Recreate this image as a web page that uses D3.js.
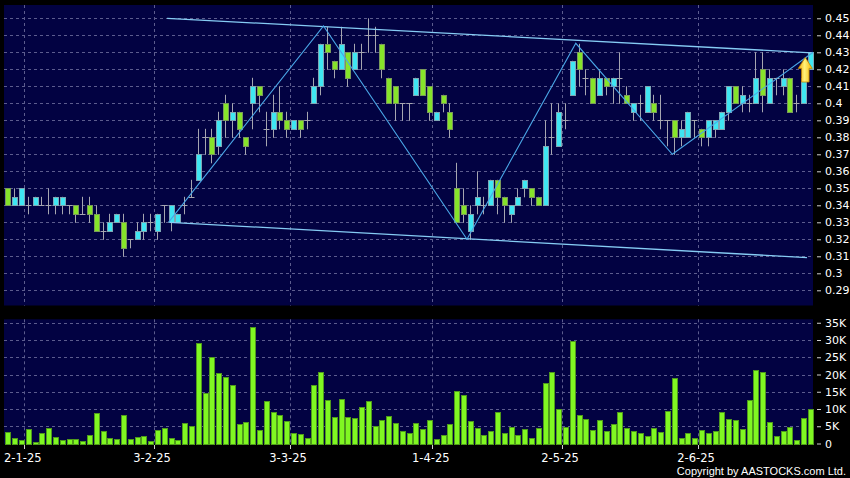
<!DOCTYPE html>
<html><head><meta charset="utf-8">
<script src="https://cdn.jsdelivr.net/npm/d3@7"></script>
<style>html,body{margin:0;padding:0;background:#000;}svg{display:block;}</style>
</head><body>
<svg id="chart" width="850" height="478"></svg>
<script>
// ---------- DATA ----------
const dates = ["2024-12-27","2024-12-30","2024-12-31","2025-01-02","2025-01-03","2025-01-06","2025-01-07","2025-01-08","2025-01-09","2025-01-10",
"2025-01-13","2025-01-14","2025-01-15","2025-01-16","2025-01-17","2025-01-20","2025-01-21","2025-01-22","2025-01-23","2025-01-24",
"2025-01-27","2025-01-28","2025-02-03","2025-02-04","2025-02-05","2025-02-06","2025-02-07","2025-02-10","2025-02-11","2025-02-12",
"2025-02-13","2025-02-14","2025-02-17","2025-02-18","2025-02-19","2025-02-20","2025-02-21","2025-02-24","2025-02-25","2025-02-26",
"2025-02-27","2025-02-28","2025-03-03","2025-03-04","2025-03-05","2025-03-06","2025-03-07","2025-03-10","2025-03-11","2025-03-12",
"2025-03-13","2025-03-14","2025-03-17","2025-03-18","2025-03-19","2025-03-20","2025-03-21","2025-03-24","2025-03-25","2025-03-26",
"2025-03-27","2025-03-28","2025-03-31","2025-04-01","2025-04-02","2025-04-03","2025-04-07","2025-04-08","2025-04-09","2025-04-10",
"2025-04-11","2025-04-14","2025-04-15","2025-04-16","2025-04-17","2025-04-22","2025-04-23","2025-04-24","2025-04-25","2025-04-28",
"2025-04-29","2025-04-30","2025-05-02","2025-05-06","2025-05-07","2025-05-08","2025-05-09","2025-05-12","2025-05-13","2025-05-14",
"2025-05-15","2025-05-16","2025-05-19","2025-05-20","2025-05-21","2025-05-22","2025-05-23","2025-05-26","2025-05-27","2025-05-28",
"2025-05-29","2025-05-30","2025-06-02","2025-06-03","2025-06-04","2025-06-05","2025-06-06","2025-06-09","2025-06-10","2025-06-11",
"2025-06-12","2025-06-13","2025-06-16","2025-06-17","2025-06-18","2025-06-19","2025-06-20","2025-06-23","2025-06-24"];

const open  = [.35,.34,.34,.34,.34,.34,.34,.34,.34,.34, .34,.335,.34,.335,.325,.325,.33,.33,.32,.32,
.325,.33,.325,.34,.33,.33,.34,.345,.355,.38, .38,.375,.40,.39,.395,.38,.40,.41,.385,.385,
.395,.39,.385,.39,.39,.40,.41,.435,.425,.42, .43,.42,.43,.44,.44,.435,.415,.41,.40,.40,
.405,.42,.41,.39,.405,.395,.35,.34,.325,.34, .34,.34,.355,.345,.335,.34,.35,.35,.345,.34,
.38,.375,.39,.405,.43,.415,.415,.405,.415,.41, .415,.405,.395,.40,.395,.40,.39,.39,.39,.38,
.38,.39,.385,.38,.385,.385,.395,.41,.40,.40, .40,.42,.40,.415,.41,.415,.40,.40,.42];
const high  = [.35,.35,.35,.345,.345,.345,.35,.345,.345,.34, .34,.345,.345,.34,.33,.335,.335,.335,.32,.33,
.335,.335,.335,.34,.34,.335,.345,.355,.385,.385, .385,.395,.405,.40,.395,.38,.415,.41,.395,.405,
.41,.395,.39,.39,.395,.415,.435,.445,.425,.445, .43,.435,.435,.45,.445,.435,.415,.41,.40,.40,
.415,.42,.41,.395,.405,.40,.365,.35,.34,.36, .345,.355,.355,.345,.34,.35,.355,.35,.345,.39,
.40,.40,.40,.425,.435,.42,.415,.42,.415,.415, .43,.41,.40,.405,.41,.405,.405,.39,.39,.39,
.395,.39,.385,.39,.39,.395,.41,.41,.41,.405, .43,.43,.42,.415,.42,.415,.405,.415,.43];
const low   = [.34,.34,.34,.335,.34,.34,.335,.335,.335,.335, .33,.335,.33,.325,.32,.325,.33,.31,.315,.32,
.32,.325,.32,.33,.325,.33,.335,.345,.355,.37, .365,.37,.38,.38,.38,.37,.385,.395,.375,.38,
.385,.38,.385,.38,.385,.40,.405,.42,.415,.42, .41,.42,.42,.43,.43,.415,.40,.39,.39,.39,
.405,.405,.39,.39,.395,.38,.33,.33,.32,.335, .335,.34,.335,.33,.33,.34,.345,.34,.34,.34,
.37,.375,.385,.405,.41,.405,.40,.405,.405,.40, .40,.40,.39,.39,.395,.39,.385,.375,.37,.375,
.38,.38,.375,.375,.38,.385,.39,.40,.395,.395, .40,.395,.40,.405,.405,.395,.395,.40,.42];
const close = [.34,.345,.35,.34,.345,.34,.34,.345,.345,.34, .335,.335,.335,.325,.325,.33,.335,.315,.32,.325,
.33,.33,.335,.34,.34,.335,.34,.345,.37,.38, .37,.39,.39,.395,.385,.375,.41,.405,.385,.395,
.39,.385,.39,.385,.39,.41,.435,.43,.42,.435, .415,.43,.43,.44,.44,.42,.40,.40,.40,.40,
.415,.405,.395,.395,.40,.385,.33,.335,.335,.345, .34,.355,.345,.34,.34,.345,.355,.345,.34,.375,
.38,.395,.39,.425,.42,.415,.40,.415,.41,.415, .415,.40,.40,.40,.41,.395,.39,.39,.38,.385,
.395,.39,.38,.39,.39,.395,.41,.40,.405,.40, .415,.405,.415,.415,.415,.395,.40,.415,.43];
const volume = [3200,1600,900,4100,500,2900,4400,1900,1100,1300, 1300,700,2600,8800,3700,1700,1200,8400,1300,1800,
2100,700,4000,4400,1700,1000,6000,5100,29200,14500, 25000,20300,19200,17100,5600,6300,33800,3900,12400,9000,
8300,6600,3100,2700,1500,17000,20700,12700,7700,13000, 7700,7300,10600,12400,5000,6900,8100,5800,3500,3000,
5800,4200,6800,1200,2400,5700,15300,14100,6500,4500, 2600,3500,9200,3100,4800,2400,4100,1500,4500,17600,
20700,10000,4700,29800,8400,7200,3900,6700,3500,5600, 9100,4500,3700,3000,2200,4400,3200,9300,18900,1600,
3000,1600,3800,2900,3500,9200,7200,6900,4100,12600, 21200,20600,6300,2100,3700,4700,1000,7400,9900];

const tickDates  = ["2025-01-02","2025-02-03","2025-03-03","2025-04-01","2025-05-02","2025-06-02"];
const tickLabels = ["2-1-25","3-2-25","3-3-25","1-4-25","2-5-25","2-6-25"];
const priceTicks = [0.29,0.30,0.31,0.32,0.33,0.34,0.35,0.36,0.37,0.38,0.39,0.40,0.41,0.42,0.43,0.44,0.45];
const priceTickLabels = ["0.29","0.3","0.31","0.32","0.33","0.34","0.35","0.36","0.37","0.38","0.39","0.4","0.41","0.42","0.43","0.44","0.45"];
const volTicks = [0,5000,10000,15000,20000,25000,30000,35000];
const volTickLabels = ["0","5K","10K","15K","20K","25K","30K","35K"];

// drawn annotations: [candle index, price]
const upperChannel = [[23.5,0.450],[118.3,0.4297]];
const lowerChannel = [[23.9,0.330],[117.6,0.3092]];
const zigzag = [[23.7,0.330],[46.5,0.4455],[67.6,0.320],[83.6,0.4353],[97.8,0.370],[118.5,0.430]];
const arrowAt = [117.35, 0.4270, 0.4125]; // index, tip price, tail price

// ---------- LAYOUT ----------
const W = 850, H = 478;
const L = 3.9, R = 813.1;
const P = {top:5, bottom:305.5};
const V = {top:319.3, bottom:443.5};
const navy = "#020242";
const gridCol = "#5c5c8e";
const cyan = "#3fe6f2", green = "#86e42a";

const svg = d3.select("#chart");
svg.append("rect").attr("width",W).attr("height",H).attr("fill","#000");

const x = d3.scaleBand().domain(dates).range([L,R]).paddingInner(0).paddingOuter(0);
const bw = x.bandwidth();
const xi = d3.scaleLinear().domain([0,dates.length]).range([L,R]); // index -> band start
const xc = i => xi(i + 0.5);
const y = d3.scaleLinear().domain([0.28106,0.45782]).range([P.bottom,P.top]);
const yv = d3.scaleLinear().domain([0,36000]).range([V.bottom,V.top]);

// panels
svg.append("rect").attr("x",4).attr("y",P.top).attr("width",809).attr("height",P.bottom-P.top).attr("fill",navy);
svg.append("rect").attr("x",4).attr("y",V.top).attr("width",809).attr("height",V.bottom-V.top+0.5).attr("fill",navy);

const grid = svg.append("g").attr("stroke",gridCol).attr("stroke-width",1).attr("stroke-dasharray","3,3").attr("fill","none");
grid.selectAll(".hp").data(priceTicks).join("line")
  .attr("x1",4).attr("x2",813).attr("y1",d=>Math.round(y(d))+0.5).attr("y2",d=>Math.round(y(d))+0.5);
grid.selectAll(".hv").data(volTicks.slice(1)).join("line")
  .attr("x1",4).attr("x2",813).attr("y1",d=>Math.round(yv(d))+0.5).attr("y2",d=>Math.round(yv(d))+0.5);
grid.selectAll(".vp").data(tickDates).join("line")
  .attr("x1",d=>Math.round(x(d))+0.5).attr("x2",d=>Math.round(x(d))+0.5).attr("y1",P.top).attr("y2",P.bottom);
grid.selectAll(".vv").data(tickDates).join("line")
  .attr("x1",d=>Math.round(x(d))+0.5).attr("x2",d=>Math.round(x(d))+0.5).attr("y1",V.top).attr("y2",V.bottom);

// candles
const candles = dates.map((d,i)=>({d,i,o:open[i],h:high[i],l:low[i],c:close[i]}));
const cg = svg.append("g");
cg.selectAll(".wick").data(candles).join("line")
  .attr("x1",c=>Math.round(x(c.d)+bw/2)+0.5).attr("x2",c=>Math.round(x(c.d)+bw/2)+0.5)
  .attr("y1",c=>y(c.h)).attr("y2",c=>y(c.l)+0.5)
  .attr("stroke","#a6a6b0").attr("stroke-width",1);
cg.selectAll(".doji").data(candles.filter(c=>c.o===c.c)).join("line")
  .attr("x1",c=>Math.round(x(c.d)+bw/2)-2.5).attr("x2",c=>Math.round(x(c.d)+bw/2)+3.5)
  .attr("y1",c=>Math.round(y(c.o))+0.5).attr("y2",c=>Math.round(y(c.o))+0.5)
  .attr("stroke","#a6a6b0").attr("stroke-width",1);
cg.selectAll(".body").data(candles.filter(c=>c.o!==c.c)).join("rect")
  .attr("x",c=>Math.round(x(c.d)+bw/2)-2+0.5)
  .attr("width",5)
  .attr("y",c=>Math.round(y(Math.max(c.o,c.c)))+0.5)
  .attr("height",c=>Math.max(1,Math.round(y(Math.min(c.o,c.c)))-Math.round(y(Math.max(c.o,c.c)))))
  .attr("fill",c=>c.c>c.o?cyan:green)
  .attr("stroke",c=>c.c>c.o?"#7fa6b4":"#7a9a5a").attr("stroke-width",1);

// volume bars
svg.append("g").selectAll("rect").data(volume).join("rect")
  .attr("x",(v,i)=>Math.round(x(dates[i])+bw/2)-2+0.5)
  .attr("width",5)
  .attr("y",v=>Math.round(yv(v))+0.5)
  .attr("height",v=>Math.max(0,Math.round(yv(0))-Math.round(yv(v))))
  .attr("fill","#80f722").attr("stroke","#4f9a1c").attr("stroke-width",1);

// trend annotations
const line = d3.line().x(p=>xc(p[0])).y(p=>y(p[1]));
const ann = svg.append("g").attr("fill","none");
ann.append("path").attr("d",line(upperChannel)).attr("stroke","#86ccf4").attr("stroke-width",1.3);
ann.append("path").attr("d",line(lowerChannel)).attr("stroke","#86ccf4").attr("stroke-width",1.3);
ann.append("path").attr("d",line(zigzag)).attr("stroke","#4aa6e6").attr("stroke-width",1.1);

// yellow arrow
const defs = svg.append("defs");
const gr = defs.append("linearGradient").attr("id","ag").attr("x1","0").attr("x2","1").attr("y1","0").attr("y2","0");
gr.append("stop").attr("offset","0").attr("stop-color","#f2a400");
gr.append("stop").attr("offset","0.45").attr("stop-color","#fff27a");
gr.append("stop").attr("offset","1").attr("stop-color","#f5b400");
{
  const ax = xc(arrowAt[0]), yt = y(arrowAt[1]), yb = y(arrowAt[2]);
  const hw = 7, sw = 3.8, hh = 11;
  const pth = `M${ax},${yt} L${ax+hw},${yt+hh} L${ax+sw},${yt+hh} L${ax+sw},${yb} L${ax-sw},${yb} L${ax-sw},${yt+hh} L${ax-hw},${yt+hh} Z`;
  svg.append("path").attr("d",pth).attr("fill","url(#ag)").attr("stroke","#c08400").attr("stroke-width",0.8);
}

// right axes
const fontFam = "DejaVu Sans, Verdana, sans-serif";
const pAxis = d3.axisRight(y).tickValues(priceTicks).tickSize(4).tickPadding(4)
  .tickFormat((d,i)=>priceTickLabels[i]);
const gpa = svg.append("g").attr("transform","translate(817,0)").call(pAxis);
const vAxis = d3.axisRight(yv).tickValues(volTicks).tickSize(4).tickPadding(4)
  .tickFormat((d,i)=>volTickLabels[i]);
const gva = svg.append("g").attr("transform","translate(817,0)").call(vAxis);
[gpa,gva].forEach(g=>{
  g.select(".domain").remove();
  g.selectAll(".tick line").attr("stroke","#d0d0d0");
  g.selectAll(".tick text").attr("fill","#ffffff").attr("font-family",fontFam).attr("font-size","11px");
});

// bottom date axis
const dg = svg.append("g");
dg.selectAll("line").data(tickDates).join("line")
  .attr("x1",d=>Math.round(x(d))+0.5).attr("x2",d=>Math.round(x(d))+0.5)
  .attr("y1",445).attr("y2",449).attr("stroke","#d0d0d0");
dg.selectAll("text").data(tickDates).join("text")
  .attr("x",d=>x(d)-1.5).attr("y",462)
  .attr("text-anchor","middle").attr("fill","#fff")
  .attr("font-family",fontFam).attr("font-size","11.5px")
  .text((d,i)=>tickLabels[i]);

svg.append("text").attr("x",846).attr("y",475).attr("text-anchor","end")
  .attr("fill","#fff").attr("font-family","Liberation Sans, Arial, sans-serif").attr("font-size","11px")
  .text("Copyright by AASTOCKS.com Ltd.");
</script>
</body></html>
